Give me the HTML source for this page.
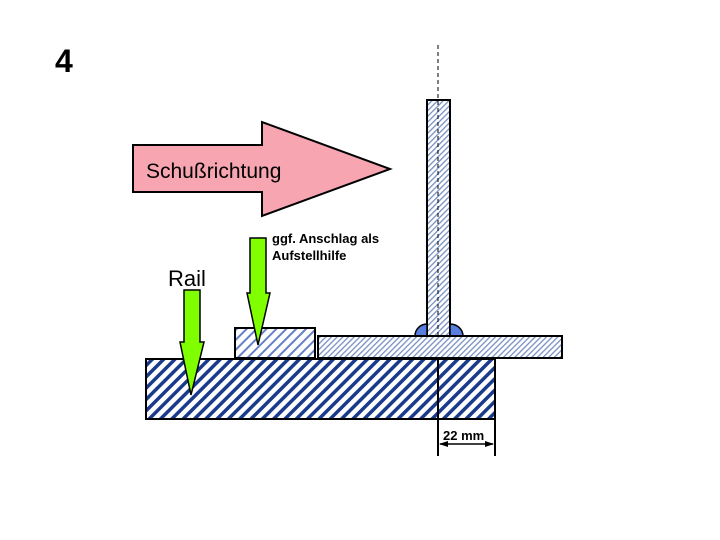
<!DOCTYPE html>
<html><head><style>html,body{margin:0;padding:0;background:#fff}svg{display:block}</style></head>
<body>
<svg width="720" height="540" viewBox="0 0 720 540" xmlns="http://www.w3.org/2000/svg" font-family="Liberation Sans, sans-serif">
<defs>
<pattern id="hd" patternUnits="userSpaceOnUse" width="8" height="8" patternTransform="rotate(45)">
<rect width="8" height="8" fill="#fff"/><rect width="3.5" height="8" fill="#1a3a8c"/></pattern>
<pattern id="hm" patternUnits="userSpaceOnUse" width="7" height="7" patternTransform="rotate(45)">
<rect width="7" height="7" fill="#fff"/><rect width="2" height="7" fill="#6680c8"/></pattern>
<pattern id="hl" patternUnits="userSpaceOnUse" width="4" height="4" patternTransform="rotate(45)">
<rect width="4" height="4" fill="#fff"/><rect width="1.3" height="4" fill="#7890c0"/></pattern>
</defs>
<text x="55" y="72" font-size="32" font-weight="bold">4</text>
<polygon points="133,145 262,145 262,122 390,169 262,216 262,192 133,192" fill="#f6a5b1" stroke="#000" stroke-width="2"/>
<text x="146" y="178" font-size="21">Schußrichtung</text>
<rect x="427" y="100" width="23" height="236" fill="url(#hl)" stroke="#000" stroke-width="2"/>
<path d="M415,336 A12,12 0 0 1 427,324 L427,336 Z" fill="#5a7ee0" stroke="#000" stroke-width="1.5"/>
<path d="M450,324 A13,12 0 0 1 463,336 L450,336 Z" fill="#5a7ee0" stroke="#000" stroke-width="1.5"/>
<line x1="438" y1="45" x2="438" y2="359" stroke="#000" stroke-width="1" stroke-dasharray="4,3"/>
<rect x="318" y="336" width="244" height="22" fill="url(#hl)" stroke="#000" stroke-width="2"/>
<rect x="235" y="328" width="80" height="30" fill="url(#hm)" stroke="#000" stroke-width="2"/>
<rect x="146" y="359" width="349" height="60" fill="url(#hd)" stroke="#000" stroke-width="2"/>
<line x1="438" y1="359" x2="438" y2="456" stroke="#000" stroke-width="2"/>
<line x1="495" y1="419" x2="495" y2="456" stroke="#000" stroke-width="2"/>
<line x1="440" y1="444" x2="493" y2="444" stroke="#000" stroke-width="1.5"/>
<polygon points="439,444 448,441 448,447" fill="#000"/>
<polygon points="494,444 485,441 485,447" fill="#000"/>
<text x="443" y="440" font-size="13" font-weight="bold">22 mm</text>
<polygon points="184,290 200,290 200,342 204,342 191,395 180,342 184,342" fill="#7fff00" stroke="#000" stroke-width="1.5"/>
<polygon points="250,238 266,238 266,293 270,293 258,345 247,293 250,293" fill="#7fff00" stroke="#000" stroke-width="1.5"/>
<text x="168" y="286" font-size="22">Rail</text>
<text x="272" y="243" font-size="13" font-weight="bold">ggf. Anschlag als</text>
<text x="272" y="260" font-size="13" font-weight="bold">Aufstellhilfe</text>
</svg>
</body></html>
